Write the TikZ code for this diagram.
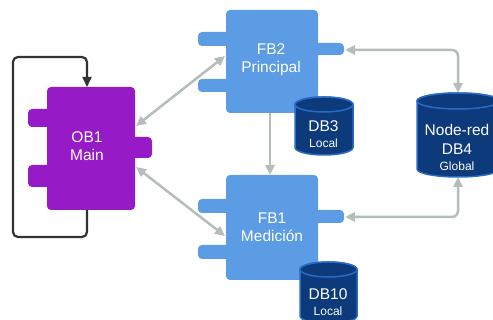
\documentclass[tikz,border=0pt]{standalone}
\usepackage{fontspec}
\setmainfont{Liberation Sans}
\usetikzlibrary{arrows.meta}
\definecolor{obpurple}{RGB}{150,26,198}
\definecolor{fbblue}{RGB}{92,156,228}
\definecolor{dbfill}{RGB}{12,58,122}
\definecolor{dbrim}{RGB}{40,106,196}
\definecolor{linkgray}{RGB}{180,188,188}
\definecolor{loopgray}{RGB}{50,50,50}
\newcommand{\sublbl}{\fontsize{12}{14}\selectfont}

\begin{document}
\begin{tikzpicture}[x=1pt,y=-1pt,
                    ob/.style={fill=obpurple,rounded corners=4pt},
                    fb/.style={fill=fbblue,rounded corners=4pt},
                    db/.style={fill=dbfill,draw=dbrim,line width=1.5pt},
                    link/.style={draw=linkgray,line width=2.5pt,rounded corners=6pt,
                                 arrows={Triangle[length=10pt,width=9pt]-Triangle[length=10pt,width=9pt]}},
                    lbl/.style={text=white,align=center,font=\fontsize{15.5}{18}\selectfont}]
                          \useasboundingbox (0,0) rectangle (493,320);
                          \clip (0,0) rectangle (493,320);

                          % connection points
                          \coordinate (OBtop) at (87,87);
                          \coordinate (OBbot) at (87,210);
                          \coordinate (LA) at (87,237);
                          \coordinate (LB) at (13,237);
                          \coordinate (LC) at (13,57);
                          \coordinate (LD) at (87,57);
                          \coordinate (OBr1) at (136,126);
                          \coordinate (OBr2) at (136,167);
                          \coordinate (FBa) at (225,56);
                          \coordinate (FBb) at (225,236);
                          \coordinate (FBc) at (270,113);
                          \coordinate (FBd) at (270,175);
                          \coordinate (FBe) at (345,50);
                          \coordinate (FBf) at (345,217);
                          \coordinate (DBa) at (458,93);
                          \coordinate (DBb) at (458,177);
                          \coordinate (DBc) at (458,50);
                          \coordinate (DBd) at (458,217);

                          % OB1
                          \fill[ob] (28,109) rectangle (52,127);
                          \fill[ob] (28,165) rectangle (52,187);
                          \fill[ob] (130,137) rectangle (152,158);
                          \fill[ob] (47,87) rectangle (135,210);

                          % FB2
                          \fill[fb] (198,32) rectangle (230,46);
                          \fill[fb] (198,79) rectangle (230,92);
                          \fill[fb] (314,43) rectangle (344,55);
                          \fill[fb] (226,10) rectangle (318,113);

                          % FB1
                          \fill[fb] (198,199) rectangle (230,213);
                          \fill[fb] (198,245) rectangle (230,259);
                          \fill[fb] (314,210) rectangle (344,223);
                          \fill[fb] (226,175) rectangle (318,280);

                          % DB3
                          \draw[db] (295,104.5) -- (295,147.5) arc[start angle=180,end angle=0,x radius=29,y radius=7.5]
                                    -- (353,104.5) arc[start angle=0,end angle=-180,x radius=29,y radius=7.5] -- cycle;
                          \draw[db] (324,104.5) ellipse[x radius=29,y radius=7.5];

                          % DB10
                          \draw[db] (300,269.5) -- (300,316) arc[start angle=180,end angle=0,x radius=28.5,y radius=7.5]
                                    -- (357,269.5) arc[start angle=0,end angle=-180,x radius=28.5,y radius=7.5] -- cycle;
                          \draw[db] (328.5,269.5) ellipse[x radius=28.5,y radius=7.5];

                          % DB4
                          \draw[db] (417,101) -- (417,169) arc[start angle=180,end angle=0,x radius=41,y radius=8]
                                    -- (499,101) arc[start angle=0,end angle=-180,x radius=41,y radius=8] -- cycle;
                          \draw[db] (458,101) ellipse[x radius=41,y radius=8];

                          % labels
                          \node[lbl] (ob1) at (87,146) {OB1\\Main};
                          \node[lbl] (fb2) at (271,60) {FB2\\Principal};
                          \node[lbl] (fb1) at (272,227) {FB1\\Medición};
                          \node[lbl] (db3) at (323.5,134) {DB3\\[-2pt]{\sublbl Local}};
                          \node[lbl] (db10) at (328,302) {DB10\\[-2pt]{\sublbl Local}};
                          \node[lbl] (db4) at (457,147) {Node-red\\[1pt]DB4\\[-2pt]{\sublbl Global}};

                          % connectors
                          \draw[draw=loopgray,line width=2.2pt,rounded corners=5pt,-{Triangle[length=10pt,width=9pt]}]
                                (OBbot) -- (LA) -- (LB) -- (LC) -- (LD) -- (OBtop);
                          \draw[link] (OBr1) -- (FBa);
                          \draw[link] (OBr2) -- (FBb);
                          \draw[link,-{Triangle[length=10pt,width=9pt]}] (FBc) -- (FBd);
                          \draw[link] (FBe) -- (DBc) -- (DBa);
                          \draw[link] (FBf) -- (DBd) -- (DBb);
                          \end{tikzpicture}
\end{document}
